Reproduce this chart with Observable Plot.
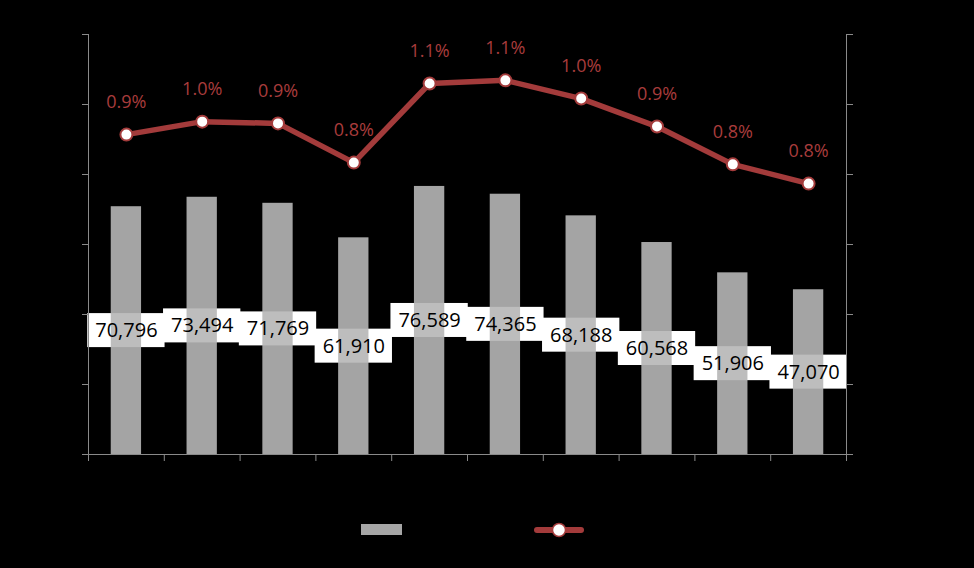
<!DOCTYPE html>
<html>
<head>
<meta charset="utf-8">
<script src="https://cdn.jsdelivr.net/npm/d3@7"></script>
<script src="https://cdn.jsdelivr.net/npm/@observablehq/plot@0.6"></script>
<style>
  html, body { margin: 0; padding: 0; background: #000; }
  #chart { width: 974px; }
  #legend { position: relative; width: 974px; height: 68px; background: #000; }
  .sw-bar { position: absolute; left: 361px; top: 24px; width: 41px; height: 11px; background: #a6a6a6; }
  .sw-line { position: absolute; left: 534px; top: 21px; }
</style>
</head>
<body>
<div id="chart"></div>
<div id="legend">
  <div class="sw-bar"></div>
  <svg class="sw-line" width="50" height="18">
    <line x1="3" x2="47" y1="9" y2="9" stroke="#a33b3b" stroke-width="6" stroke-linecap="round"></line>
    <circle cx="25" cy="9" r="6.5" fill="#fff" stroke="#a33b3b" stroke-width="1.5"></circle>
  </svg>
</div>
<script>
// ---- data ----
const categories = ["2010", "2011", "2012", "2013", "2014", "2015", "2016", "2017", "2018", "2019"];
const barValues = [70796, 73494, 71769, 61910, 76589, 74365, 68188, 60568, 51906, 47070];
const shareValues = [0.914, 0.951, 0.946, 0.834, 1.060, 1.069, 1.017, 0.937, 0.829, 0.774]; // percent
const yTicks = [0, 20000, 40000, 60000, 80000, 100000, 120000];
const rightMaxPct = 1.2; // right axis 0% – 1.2%

const yMax = 120000;
const data = categories.map((c, i) => ({
  cat: c,
  value: barValues[i],
  mid: barValues[i] / 2,
  pct: shareValues[i],
  pctY: shareValues[i] / rightMaxPct * yMax
}));

const W = 974, H = 500, mL = 88, mR = 128, mT = 34, mB = 46;
const step = (W - mL - mR) / categories.length;
const axisColor = "#8a8a8a";
const red = "#a33b3b";
const first = categories[0], last = categories[categories.length - 1];

const chart = Plot.plot({
  width: W, height: H,
  marginLeft: mL, marginRight: mR, marginTop: mT, marginBottom: mB,
  style: { background: "#000", fontFamily: "Open Sans, sans-serif" },
  x: { domain: categories, paddingInner: 0.6, paddingOuter: 0.3, round: false, axis: null, label: null },
  y: { domain: [0, yMax], axis: null, label: null },
  marks: [
    // white label boxes (behind the bars)
    Plot.barY(data, { x: "cat", y1: "mid", y2: "mid", fill: "#fff",
      insetLeft: -23.5, insetRight: -23.5, insetTop: -17, insetBottom: -17 }),
    // bars
    Plot.barY(data, { x: "cat", y: "value", fill: "#b6b6b6", fillOpacity: 0.9 }),
    // bar value labels
    Plot.text(data, { x: "cat", y: "mid", text: d => d3.format(",")(d.value),
      fontSize: 20, fill: "#000", fontFamily: "Open Sans, sans-serif" }),
    // axes lines
    Plot.ruleY([0], { stroke: axisColor }),
    Plot.ruleX([first], { x: d => d, y1: 0, y2: yMax, dx: -step / 2, stroke: axisColor }),
    Plot.ruleX([last], { x: d => d, y1: 0, y2: yMax, dx: step / 2, stroke: axisColor }),
    // bottom ticks between categories
    Plot.ruleX(categories, { x: d => d, y1: 0, y2: 0, insetBottom: -7, dx: -step / 2, stroke: axisColor }),
    Plot.ruleX([last], { x: d => d, y1: 0, y2: 0, insetBottom: -7, dx: step / 2, stroke: axisColor }),
    Plot.axisY({ anchor: "left", ticks: yTicks, tickSize: 6, tickFormat: () => "", stroke: axisColor, label: null }),
    Plot.axisY({ anchor: "right", ticks: yTicks, tickSize: 6, tickFormat: () => "", stroke: axisColor, label: null }),
    // share line
    Plot.line(data, { x: "cat", y: "pctY", stroke: red, strokeWidth: 5.5, strokeLinejoin: "round" }),
    Plot.dot(data, { x: "cat", y: "pctY", r: 6, fill: "#fff", stroke: red, strokeWidth: 2 }),
    Plot.text(data, { x: "cat", y: "pctY", dy: -32, text: d => d.pct.toFixed(1) + "%",
      fill: "#a83c3c", fontSize: 18, fontFamily: "Open Sans, sans-serif" })
  ]
});
document.getElementById("chart").appendChild(chart);
</script>
</body>
</html>
